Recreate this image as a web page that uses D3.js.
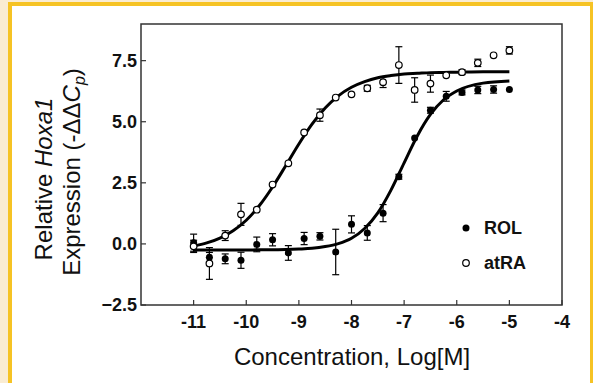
<!DOCTYPE html>
<head>
<meta charset="utf-8">
<style>
  body { margin: 0; background: #faecd2; }
  svg { display: block; }
  .tick-label { font-family: 'Liberation Sans', Arial, sans-serif; font-weight: bold; font-size: 18px; fill: #111; }
  .title { font-family: 'Liberation Sans', Arial, sans-serif; font-size: 24px; fill: #111; }
  .legend { font-family: 'Liberation Sans', Arial, sans-serif; font-weight: bold; font-size: 18px; fill: #111; }
  .fit { fill: none; stroke: #000; stroke-width: 3px; }
  .err { stroke: #000; stroke-width: 1.2px; }
</style>
</head>
<body>
<div id="chart"></div>
<script src="https://d3js.org/d3.v7.min.js"></script>
<script>
// concentrations, log[M]
var conc = [-11, -10.7, -10.4, -10.1, -9.8, -9.5, -9.2, -8.9, -8.6, -8.3, -8.0,
            -7.7, -7.4, -7.1, -6.8, -6.5, -6.2, -5.9, -5.6, -5.3, -5.0];
var rolMean = [0.05, -0.55, -0.61, -0.67, -0.02, 0.17, -0.37, 0.22, 0.31, -0.33, 0.8,
               0.45, 1.26, 2.75, 4.33, 5.47, 6.04, 6.2, 6.3, 6.32, 6.32];
var rolErr = [0.35, 0.2, 0.2, 0.33, 0.3, 0.25, 0.3, 0.25, 0.15, 0.93, 0.35,
              0.3, 0.35, 0.1, 0, 0.12, 0.2, 0.1, 0.15, 0.15, 0];
var atraMean = [-0.1, -0.8, 0.34, 1.21, 1.4, 2.43, 3.3, 4.56, 5.27, 5.99, 6.12,
                6.37, 6.62, 7.32, 6.3, 6.56, 6.9, 7.03, 7.41, 7.72, 7.92];
var atraErr = [0.25, 0.65, 0.2, 0.45, 0, 0, 0, 0, 0.25, 0, 0,
               0.12, 0.22, 0.75, 0.5, 0.35, 0, 0.1, 0.15, 0, 0.15];

// fitted curves
var fitX = [-11, -10.75, -10.5, -10.25, -10, -9.75, -9.5, -9.25, -9, -8.75, -8.5, -8.25,
            -8, -7.75, -7.5, -7.25, -7, -6.75, -6.5, -6.25, -6, -5.5, -5];
var rolFit = [-0.25, -0.25, -0.25, -0.25, -0.25, -0.24, -0.24, -0.23, -0.21, -0.18, -0.11, 0.01,
              0.23, 0.63, 1.27, 2.2, 3.32, 4.42, 5.3, 5.9, 6.26, 6.58, 6.67];
var atraFit = [-0.09, 0.04, 0.24, 0.54, 0.97, 1.57, 2.33, 3.2, 4.09, 4.9, 5.56, 6.06,
               6.41, 6.64, 6.8, 6.89, 6.95, 6.98, 7.01, 7.02, 7.03, 7.05, 7.05];

var xTicks = [-11, -10, -9, -8, -7, -6, -5, -4];
var yTicks = [-2.5, 0, 2.5, 5, 7.5];

var W = 593, H = 383;
var svg = d3.select("#chart").append("svg").attr("width", W).attr("height", H);

// frame of the page
svg.append("rect").attr("x", 0).attr("y", 0).attr("width", W).attr("height", H).attr("fill", "#faecd2");
svg.append("rect").attr("x", 8).attr("y", 2).attr("width", W - 8).attr("height", H + 10).attr("fill", "#f6c324");
svg.append("rect").attr("x", 12).attr("y", 6).attr("width", 578).attr("height", H + 10).attr("fill", "#fff");

var plot = {left: 141, right: 562, top: 24, bottom: 305};
var x = d3.scaleLinear().domain([-12, -4]).range([plot.left, plot.right]);
var y = d3.scaleLinear().domain([-2.5, 9]).range([plot.bottom, plot.top]);

var g = svg.append("g");

// box
g.append("rect")
  .attr("x", plot.left).attr("y", plot.top)
  .attr("width", plot.right - plot.left).attr("height", plot.bottom - plot.top)
  .attr("fill", "none").attr("stroke", "#333").attr("stroke-width", 1.5);

// ticks (inward)
g.selectAll(".xt").data(xTicks).enter().append("line")
  .attr("x1", function(d) { return x(d); }).attr("x2", function(d) { return x(d); })
  .attr("y1", plot.bottom).attr("y2", plot.bottom - 5)
  .attr("stroke", "#333").attr("stroke-width", 1.2);
g.selectAll(".xl").data(xTicks).enter().append("text")
  .attr("class", "tick-label")
  .attr("x", function(d) { return x(d); }).attr("y", 328)
  .attr("text-anchor", "middle")
  .text(function(d) { return d; });

g.selectAll(".yt").data(yTicks).enter().append("line")
  .attr("x1", plot.left).attr("x2", plot.left + 5)
  .attr("y1", function(d) { return y(d); }).attr("y2", function(d) { return y(d); })
  .attr("stroke", "#333").attr("stroke-width", 1.2);
g.selectAll(".yl").data(yTicks).enter().append("text")
  .attr("class", "tick-label")
  .attr("x", 137).attr("y", function(d) { return y(d); })
  .attr("dy", "0.36em")
  .attr("text-anchor", "end")
  .text(function(d) { return d3.format(".1f")(d); });

// axis titles
g.append("text").attr("class", "title")
  .attr("x", 352).attr("y", 365).attr("text-anchor", "middle")
  .text("Concentration, Log[M]");

var t1 = g.append("text").attr("class", "title")
  .attr("transform", "translate(52,179) rotate(-90)").attr("text-anchor", "middle");
t1.append("tspan").text("Relative ");
t1.append("tspan").attr("font-style", "italic").text("Hoxa1");

var t2 = g.append("text").attr("class", "title")
  .attr("transform", "translate(80,172) rotate(-90)").attr("text-anchor", "middle");
t2.append("tspan").text("Expression (-ΔΔ");
t2.append("tspan").attr("font-style", "italic").text("C");
t2.append("tspan").attr("font-style", "italic").attr("font-size", "16px").attr("dy", 5).text("p");
t2.append("tspan").attr("dy", -5).text(")");

// fit curves
var line = d3.line()
  .x(function(d) { return x(d[0]); })
  .y(function(d) { return y(d[1]); })
  .curve(d3.curveMonotoneX);
g.append("path").attr("class", "fit").attr("d", line(d3.zip(fitX, atraFit)));
g.append("path").attr("class", "fit").attr("d", line(d3.zip(fitX, rolFit)));

// error bars
function errorBars(mean, err) {
  var data = conc.map(function(c, i) { return {c: c, m: mean[i], e: err[i]}; })
    .filter(function(d) { return d.e > 0; });
  var eg = g.append("g");
  eg.selectAll(".v").data(data).enter().append("line").attr("class", "err")
    .attr("x1", function(d) { return x(d.c); }).attr("x2", function(d) { return x(d.c); })
    .attr("y1", function(d) { return y(d.m - d.e); }).attr("y2", function(d) { return y(d.m + d.e); });
  [1, -1].forEach(function(s) {
    eg.selectAll(".cap" + s).data(data).enter().append("line").attr("class", "err")
      .attr("x1", function(d) { return x(d.c) - 3.5; }).attr("x2", function(d) { return x(d.c) + 3.5; })
      .attr("y1", function(d) { return y(d.m + s * d.e); }).attr("y2", function(d) { return y(d.m + s * d.e); });
  });
}
errorBars(rolMean, rolErr);
errorBars(atraMean, atraErr);

// points
g.selectAll(".rol").data(conc).enter().append("circle")
  .attr("cx", function(d) { return x(d); })
  .attr("cy", function(d, i) { return y(rolMean[i]); })
  .attr("r", 3.5).attr("fill", "#000");
g.selectAll(".atra").data(conc).enter().append("circle")
  .attr("cx", function(d) { return x(d); })
  .attr("cy", function(d, i) { return y(atraMean[i]); })
  .attr("r", 3.3).attr("fill", "#fff").attr("stroke", "#000").attr("stroke-width", 1.2);

// legend
g.append("circle").attr("cx", 466).attr("cy", 228).attr("r", 3.5).attr("fill", "#000");
g.append("text").attr("class", "legend").attr("x", 484).attr("y", 234).text("ROL");
g.append("circle").attr("cx", 466).attr("cy", 263).attr("r", 3.3)
  .attr("fill", "#fff").attr("stroke", "#000").attr("stroke-width", 1.2);
g.append("text").attr("class", "legend").attr("x", 484).attr("y", 269).text("atRA");
</script>
</body>
